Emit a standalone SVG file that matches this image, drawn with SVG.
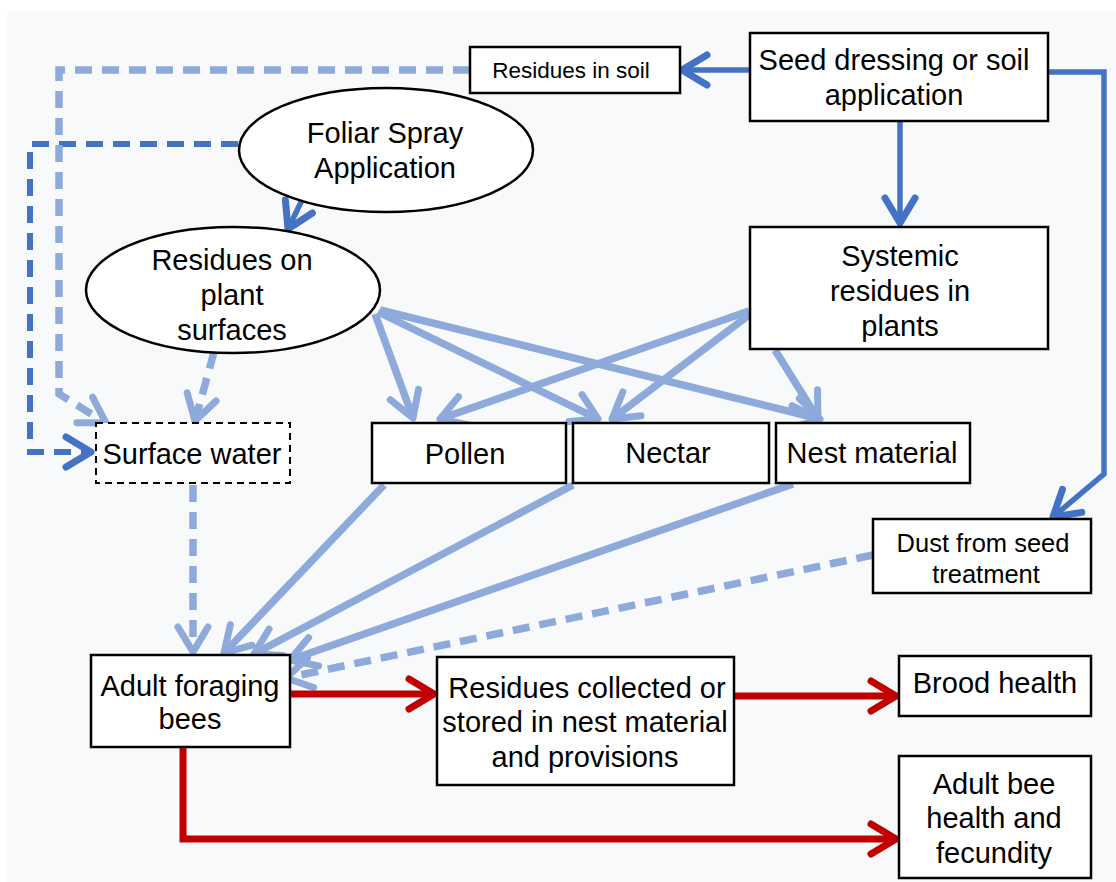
<svg xmlns="http://www.w3.org/2000/svg" width="1116" height="882" viewBox="0 0 1116 882">
<style>
.box{fill:#ffffff;stroke:#000;stroke-width:2.5}
.dbox{fill:#ffffff;stroke:#000;stroke-width:2;stroke-dasharray:7 5}
.t{font-family:"Liberation Sans",Arial,sans-serif;font-size:29px;fill:#000;text-anchor:middle}
.ts{font-size:22.5px}
.tm{font-size:25.5px}
.dk{fill:none;stroke:#4472c4;stroke-width:5.5}
.lt{fill:none;stroke:#8eaadb;stroke-width:7.5}
.rd{fill:none;stroke:#c00000;stroke-width:7}
.dash{stroke-dasharray:17 10}
</style>
<defs>
<marker id="aDk" markerUnits="userSpaceOnUse" viewBox="0 0 36 40" refX="31" refY="20" markerWidth="36" markerHeight="40" orient="auto"><path d="M6,5 L31,20 L6,35" fill="none" stroke="#4472c4" stroke-width="7" stroke-linecap="round" stroke-linejoin="round"/></marker>
<marker id="aLt" markerUnits="userSpaceOnUse" viewBox="0 0 36 40" refX="31" refY="20" markerWidth="36" markerHeight="40" orient="auto"><path d="M6,5 L31,20 L6,35" fill="none" stroke="#8eaadb" stroke-width="7" stroke-linecap="round" stroke-linejoin="round"/></marker>
<marker id="aRd" markerUnits="userSpaceOnUse" viewBox="0 0 36 40" refX="31" refY="20" markerWidth="36" markerHeight="40" orient="auto"><path d="M6,5 L31,20 L6,35" fill="none" stroke="#c00000" stroke-width="7" stroke-linecap="round" stroke-linejoin="round"/></marker>
</defs>
<rect x="0" y="0" width="1116" height="882" fill="#ffffff"/>
<rect x="7" y="11" width="1109" height="871" fill="#f8f9fa"/>

<g id="connectors">
<!-- dark blue solid -->
<path class="dk" d="M750,70 L682,70" marker-end="url(#aDk)"/>
<path class="dk" d="M900,121 L900,223" marker-end="url(#aDk)"/>
<path class="dk" d="M1048,72 L1104,72 L1104,474 L1053,517" marker-end="url(#aDk)"/>
<path class="dk" d="M303,198 L288,229" marker-end="url(#aDk)"/>
<!-- dark blue dashed -->
<path class="dk dash" style="stroke-width:6" d="M238,144 L30,144 L30,452 L91,452" marker-end="url(#aDk)"/>
<!-- light dashed -->
<path class="lt dash" d="M470,70 L59,70 L59,394 L106,423" marker-end="url(#aLt)"/>
<path class="lt dash" d="M214,352 L195,421" marker-end="url(#aLt)"/>
<path class="lt dash" d="M193,485 L193,652" marker-end="url(#aLt)"/>
<path class="lt dash" d="M873,555 L286,678" marker-end="url(#aLt)"/>
<!-- light solid -->
<path class="lt" d="M375,314 L413,418" marker-end="url(#aLt)"/>
<path class="lt" d="M378,312 L598,419" marker-end="url(#aLt)"/>
<path class="lt" d="M380,310 L820,419" marker-end="url(#aLt)"/>
<path class="lt" d="M749,311 L440,419" marker-end="url(#aLt)"/>
<path class="lt" d="M749,315 L612,419" marker-end="url(#aLt)"/>
<path class="lt" d="M775,350 L818,419" marker-end="url(#aLt)"/>
<path class="lt" d="M384,485 L224,653" marker-end="url(#aLt)"/>
<path class="lt" d="M573,485 L254,654" marker-end="url(#aLt)"/>
<path class="lt" d="M793,484 L290,660" marker-end="url(#aLt)"/>
<!-- red -->
<path class="rd" d="M290,694 L434,694" marker-end="url(#aRd)"/>
<path class="rd" d="M734,696 L896,696" marker-end="url(#aRd)"/>
<path class="rd" d="M183,748 L183,839 L896,839" marker-end="url(#aRd)"/>
</g>

<g id="n-residues-soil"><rect class="box" x="470" y="47" width="210" height="46"/><text class="t ts" x="571" y="78">Residues in soil</text></g>
<g id="n-seed"><rect class="box" x="750" y="33" width="298" height="88"/><text class="t" x="894" y="70">Seed dressing or soil</text><text class="t" x="894" y="105">application</text></g>
<g id="n-foliar"><ellipse class="box" cx="386" cy="150" rx="147" ry="62"/><text class="t" x="385" y="143">Foliar Spray</text><text class="t" x="385" y="178">Application</text></g>
<g id="n-plant-surfaces"><ellipse class="box" cx="233" cy="290" rx="147" ry="63"/><text class="t" x="232" y="270">Residues on</text><text class="t" x="232" y="305">plant</text><text class="t" x="232" y="340">surfaces</text></g>
<g id="n-systemic"><rect class="box" x="750" y="227" width="298" height="122"/><text class="t" x="900" y="266">Systemic</text><text class="t" x="900" y="301">residues in</text><text class="t" x="900" y="336">plants</text></g>
<g id="n-surface-water"><rect class="dbox" x="96" y="423" width="194" height="60"/><text class="t" x="192" y="464">Surface water</text></g>
<g id="n-pollen"><rect class="box" x="372" y="423" width="194" height="60"/><text class="t" x="465" y="464">Pollen</text></g>
<g id="n-nectar"><rect class="box" x="573" y="423" width="196" height="60"/><text class="t" x="668" y="463">Nectar</text></g>
<g id="n-nest"><rect class="box" x="776" y="423" width="194" height="60"/><text class="t" x="872" y="463">Nest material</text></g>
<g id="n-dust"><rect class="box" x="873" y="519" width="218" height="74"/><text class="t tm" x="983" y="552">Dust from seed</text><text class="t tm" x="986" y="583">treatment</text></g>
<g id="n-adult-foraging"><rect class="box" x="91" y="655" width="199" height="92"/><text class="t" x="190" y="696">Adult foraging</text><text class="t" x="190" y="729">bees</text></g>
<g id="n-collected"><rect class="box" x="437" y="657" width="297" height="128"/><text class="t" x="587" y="698">Residues collected or</text><text class="t" x="585" y="732">stored in nest material</text><text class="t" x="585" y="767">and provisions</text></g>
<g id="n-brood"><rect class="box" x="899" y="656" width="192" height="60"/><text class="t" x="995" y="693">Brood health</text></g>
<g id="n-adult-health"><rect class="box" x="899" y="756" width="192" height="122"/><text class="t" x="994" y="794">Adult bee</text><text class="t" x="994" y="828">health and</text><text class="t" x="994" y="863">fecundity</text></g>
</svg>
